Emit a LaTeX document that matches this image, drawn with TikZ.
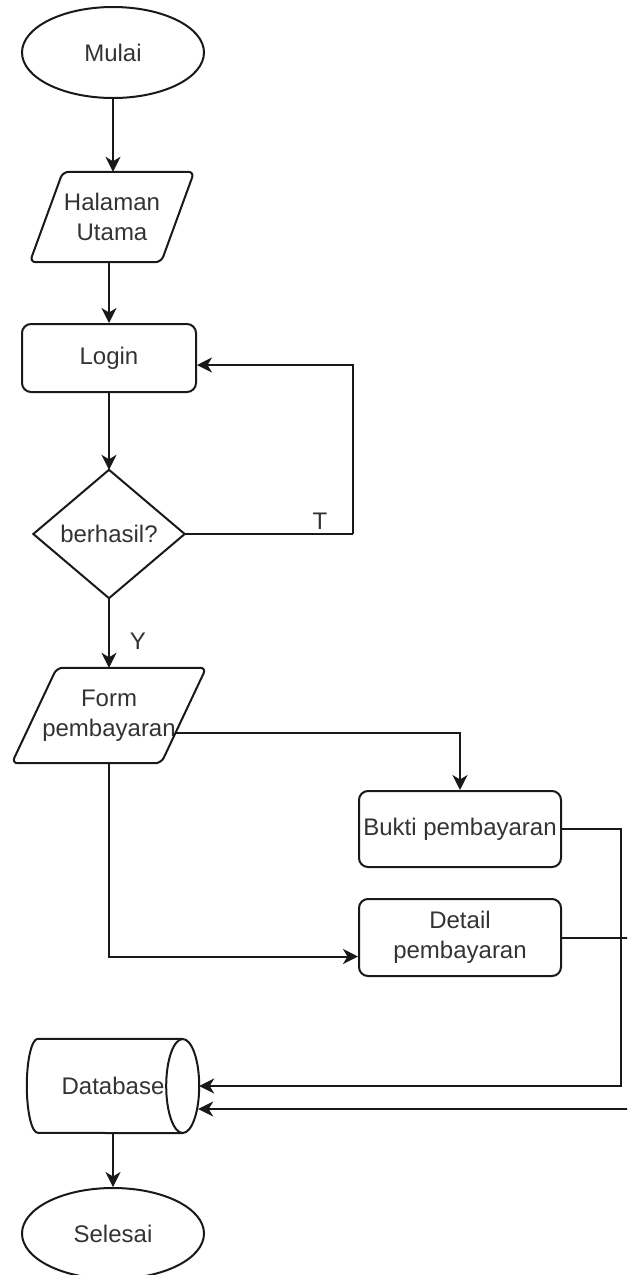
\documentclass[tikz,border=0pt]{standalone}
\usepackage{fontspec}
\setmainfont{Liberation Sans}
\usetikzlibrary{arrows.meta,shapes.geometric,calc}

\begin{document}
\begin{tikzpicture}[x=1pt,y=-1pt,
  every node/.style={font=\fontsize{24}{30}\selectfont, text=black!80},
  line/.style={line width=2pt, draw=black!90},
  arr/.style={line, -{Stealth[length=15pt,width=15pt,inset=4.5pt]}},
  term/.style={ellipse, draw=black!90, line width=2pt, minimum width=182pt, minimum height=91pt, inner sep=0pt},
  proc/.style={rectangle, rounded corners=9pt, draw=black!90, line width=2pt, inner sep=0pt, align=center},
  frame/.style={inner sep=0pt, align=center},
]
\clip (0,0) rectangle (627,1275);

% flow nodes
\node[term] (start) at (113,52.5) {Mulai};

\node[frame, minimum width=164pt, minimum height=90pt] (home) at (112,217) {Halaman\\Utama};
\draw[line, rounded corners=6pt] (home.south west) -- ($(home.north west)+(33,0)$)
  -- (home.north east) -- ($(home.south east)+(-33,0)$) -- cycle;

\node[proc, minimum width=174pt, minimum height=68pt] (login) at (109,358) {Login};

\node[frame, minimum width=151pt, minimum height=128pt] (check) at (109,534) {berhasil?};
\draw[line] (check.north) -- (check.east) -- (check.south) -- (check.west) -- cycle;

\node[frame, minimum width=194pt, minimum height=95pt] (form) at (109,715.5) {Form\\pembayaran};
\draw[line, rounded corners=6pt] (form.south west) -- ($(form.north west)+(45,0)$)
  -- (form.north east) -- ($(form.south east)+(-45,0)$) -- cycle;

\node[proc, minimum width=202pt, minimum height=76pt] (proof) at (460,829) {Bukti pembayaran};
\node[proc, minimum width=202pt, minimum height=77pt] (detail) at (460,937.5) {Detail\\pembayaran};

% database as a horizontal cylinder
\node[frame, minimum width=172pt, minimum height=94pt] (db) at (113,1086) {Database};
\draw[line] ($(db.north east)+(-16.5,0)$) -- ($(db.north west)+(11,0)$)
  arc[start angle=90, end angle=270, x radius=11pt, y radius=47pt]
  -- ($(db.south east)+(-16.5,0)$);
\draw[line] ($(db.east)+(-16.5,0)$) ellipse[x radius=16.5pt, y radius=47pt];

\node[term] (end) at (113,1233.5) {Selesai};

% connectors
\draw[arr] (start.south) -- (start.south |- home.north);
\draw[arr] (home.south -| login.north) -- (login.north);
\draw[arr] (login.south) -- (check.north);
\draw[line] (check.east) -- ++(168,0) coordinate (loopc);
\draw[arr] (loopc) |- ([yshift=-7pt]login.east);
\node (tlab) at (320,521) {T};
\draw[arr] (check.south) -- (form.north);
\node (ylab) at (138,641) {Y};
\coordinate (fo) at ($(form.east)+(-30,17)$);
\draw[arr] (fo) -| (proof.north);
\draw[arr] (form.south) |- ($(detail.west)+(0,19)$);
\draw[arr] (proof.east) -- ++(59,0) |- (db.east);
\draw[arr] (detail.east) -- ++(80,0) |- ($(db.east)+(-1,23)$);
\draw[arr] (db.south) -- (end.north);
\end{tikzpicture}
\end{document}
